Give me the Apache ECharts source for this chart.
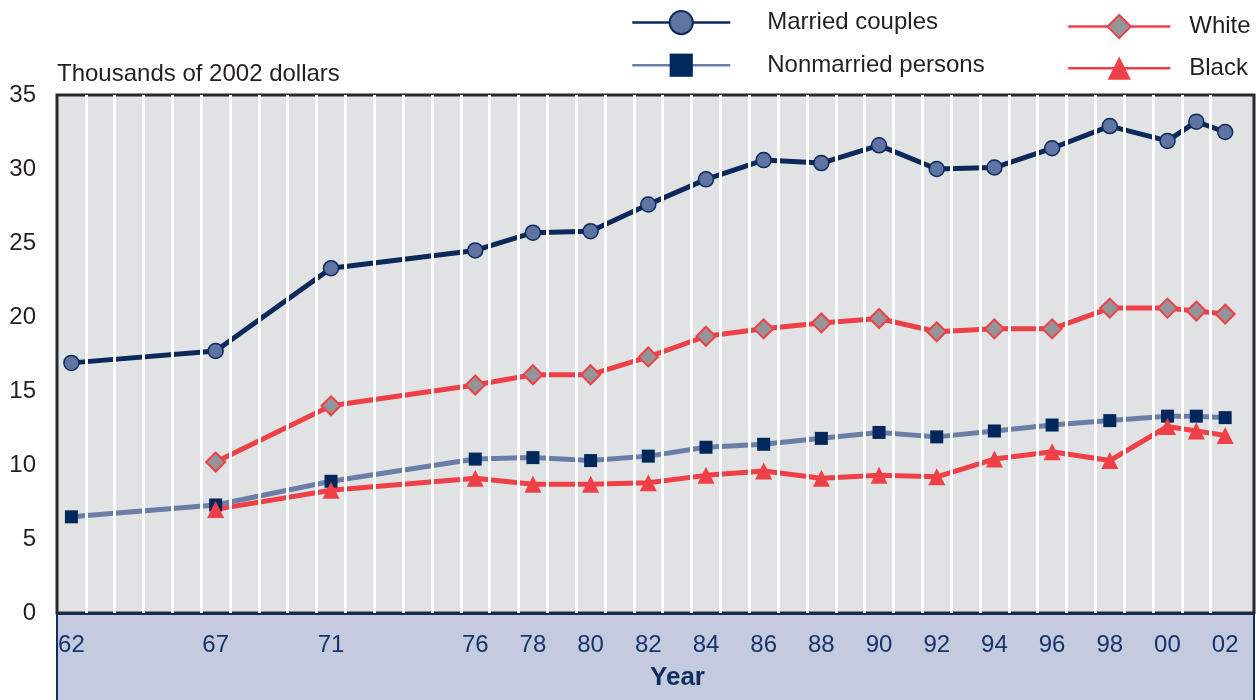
<!DOCTYPE html>
<html>
<head>
<meta charset="utf-8">
<script src="https://cdn.jsdelivr.net/npm/echarts@6/dist/echarts.min.js"></script>
<style>
  html, body { margin: 0; padding: 0; background: #fff; }
  #chart { width: 1256px; height: 700px; }
</style>
</head>
<body>
<div id="chart"></div>
<script>
// years with data points
var years = [1962, 1967, 1971, 1976, 1978, 1980, 1982, 1984, 1986, 1988, 1990, 1992, 1994, 1996, 1998, 2000, 2001, 2002]
var married = [16.9, 17.7, 23.3, 24.5, 25.7, 25.8, 27.6, 29.3, 30.6, 30.4, 31.6, 30.0, 30.1, 31.4, 32.9, 31.9, 33.2, 32.5]
var nonmarried = [6.5, 7.3, 8.9, 10.4, 10.5, 10.3, 10.6, 11.2, 11.4, 11.8, 12.2, 11.9, 12.3, 12.7, 13.0, 13.3, 13.3, 13.2]
var white = [null, 10.2, 14.0, 15.4, 16.1, 16.1, 17.3, 18.7, 19.2, 19.6, 19.9, 19.0, 19.2, 19.2, 20.6, 20.6, 20.4, 20.2]
var black = [null, 7.0, 8.3, 9.1, 8.7, 8.7, 8.8, 9.3, 9.6, 9.1, 9.3, 9.2, 10.4, 10.9, 10.3, 12.6, 12.3, 12.0]
var yearLabels = [1962, 1967, 1971, 1976, 1978, 1980, 1982, 1984, 1986, 1988, 1990, 1992, 1994, 1996, 1998, 2000, 2002]

// white grid lines sit between the years
var yearEdges = []
for (var y = 1962; y <= 2001; y++) yearEdges.push(y + 0.5)

function pairs (vals) {
  var out = []
  vals.forEach(function (v, i) {
    if (v !== null) out.push([years[i], v])
  })
  return out
}

var font = '"Liberation Sans", Arial, Helvetica, sans-serif'
var navy = '#0b2a5b'
var red = '#ef4047'

var chart = echarts.init(document.getElementById('chart'))
var option = {
  animation: false,
  textStyle: { fontFamily: font },
  grid: {
    left: 57,
    right: 2,
    top: 95,
    bottom: 87,
    show: true,
    backgroundColor: '#e1e2e4',
    borderColor: '#2a2a2a',
    borderWidth: 3
  },
  legend: [
    {
      data: ['Married couples', 'Nonmarried persons'],
      orient: 'vertical',
      left: 626,
      top: 5,
      itemWidth: 98,
      itemHeight: 29,
      itemGap: 18,
      lineStyle: { width: 2.5 },
      textStyle: { fontSize: 24, color: '#231f20', fontFamily: font, padding: [0, 0, 0, 32] }
    },
    {
      data: ['White', 'Black'],
      orient: 'vertical',
      left: 1062,
      top: 9,
      itemWidth: 102,
      itemHeight: 29,
      itemGap: 17,
      lineStyle: { width: 2.5 },
      textStyle: { fontSize: 24, color: '#231f20', fontFamily: font, padding: [0, 0, 0, 14] }
    }
  ],
  graphic: [
    {
      type: 'rect',
      z: 1,
      shape: { x: 57, y: 614, width: 1197, height: 90 },
      style: { fill: '#c5cbdf', stroke: '#0f2d5f', lineWidth: 2 }
    }
  ],
  xAxis: {
    type: 'value',
    min: 1961.5,
    max: 2003,
    z: 10,
    axisLine: { show: false },
    axisTick: { show: false, customValues: yearEdges },
    splitLine: { show: true, lineStyle: { color: '#ffffff', width: 3 } },
    axisLabel: {
      customValues: yearLabels,
      margin: 20,
      fontSize: 24,
      color: '#17336a',
      fontFamily: font,
      formatter: function (v) { return String(v).slice(2) }
    },
    name: 'Year',
    nameLocation: 'middle',
    nameGap: 52,
    nameTextStyle: { fontSize: 26, fontWeight: 'bold', color: '#0f2d5f', fontFamily: font, padding: [0, 0, 0, 44] }
  },
  yAxis: {
    type: 'value',
    min: 0,
    max: 35,
    interval: 5,
    axisLine: { show: false },
    axisTick: { show: false },
    splitLine: { show: false },
    axisLabel: { fontSize: 24, color: '#231f20', margin: 21, fontFamily: font },
    name: 'Thousands of 2002 dollars',
    nameLocation: 'end',
    nameGap: 9,
    nameTextStyle: { fontSize: 24, color: '#231f20', align: 'left', fontFamily: font }
  },
  series: [
    {
      name: 'Married couples',
      type: 'line',
      data: pairs(married),
      symbol: 'circle',
      symbolSize: 15,
      lineStyle: { color: navy, width: 5 },
      itemStyle: { color: '#5f74a2', borderColor: navy, borderWidth: 1.5 },
      z: 3
    },
    {
      name: 'Nonmarried persons',
      type: 'line',
      data: pairs(nonmarried),
      symbol: 'rect',
      symbolSize: 13,
      lineStyle: { color: '#6a7ea8', width: 5 },
      itemStyle: { color: '#00285c', borderWidth: 0 },
      z: 3
    },
    {
      name: 'White',
      type: 'line',
      data: pairs(white),
      symbol: 'diamond',
      symbolSize: 19,
      lineStyle: { color: red, width: 5 },
      itemStyle: { color: '#939598', borderColor: red, borderWidth: 2 },
      z: 3
    },
    {
      name: 'Black',
      type: 'line',
      data: pairs(black),
      symbol: 'triangle',
      symbolSize: 17,
      lineStyle: { color: red, width: 5 },
      itemStyle: { color: red, borderWidth: 0 },
      z: 3
    }
  ]
}
chart.setOption(option)
</script>
</body>
</html>
